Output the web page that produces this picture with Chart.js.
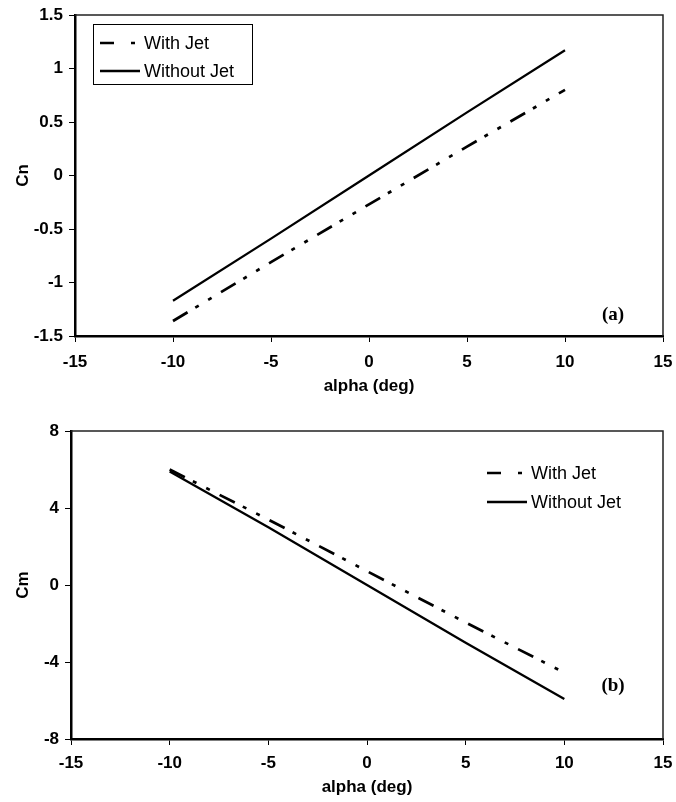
<!DOCTYPE html>
<html>
<head>
<meta charset="utf-8">
<script src="https://cdn.jsdelivr.net/npm/chart.js@4.4.1/dist/chart.umd.min.js"></script>
<style>
  body { margin: 0; background: #fff; }
  .box { position: absolute; left: 0; width: 676px; }
</style>
</head>
<body>
<div class="box" style="top:0;height:400px"><canvas id="cn" width="676" height="400"></canvas></div>
<div class="box" style="top:400px;height:402px"><canvas id="cm" width="676" height="402"></canvas></div>
<script>
// angle of attack (deg)
const alpha = [-10, -5, 0, 5, 10];

// normal force coefficient, chart (a)
const cnWithJet = [-1.36, -0.81, -0.27, 0.27, 0.80];
const cnWithoutJet = [-1.17, -0.59, 0.0, 0.59, 1.17];

// pitching moment coefficient, chart (b)
const cmWithJet = [6.0, 3.4, 0.72, -1.95, -4.55];
const cmWithoutJet = [5.9, 3.0, 0.0, -3.0, -5.92];

const alphaTicks = [-15, -10, -5, 0, 5, 10, 15];
const cnTicks = [-1.5, -1, -0.5, 0, 0.5, 1, 1.5];
const cmTicks = [-8, -4, 0, 4, 8];

const seriesNames = ['With Jet', 'Without Jet'];

const SANS = '"Liberation Sans", Arial, sans-serif';
const dashDotDot = [17, 9, 4, 11, 4, 11];

function pts(xs, ys) {
    return xs.map((x, i) => ({ x: x, y: ys[i] }));
}

// frame + legend + panel letter, drawn on top of the plot
function decorations(opts) {
    return {
        id: 'decor',
        afterDraw(chart) {
            const ctx = chart.ctx;
            const a = chart.chartArea;
            ctx.save();
            // thin top and right frame
            ctx.strokeStyle = '#222';
            ctx.lineWidth = 1.5;
            ctx.beginPath();
            ctx.moveTo(a.left, a.top);
            ctx.lineTo(a.right, a.top);
            ctx.lineTo(a.right, a.bottom);
            ctx.stroke();

            // legend
            const lx = opts.legendRight ? a.right - opts.legendX : a.left + opts.legendX;
            const ly = a.top + opts.legendY;
            if (opts.legendBox) {
                ctx.lineWidth = 1;
                ctx.strokeStyle = '#000';
                ctx.strokeRect(lx - 6.5, ly - 18.5, 159, 60);
            }
            ctx.font = '18px ' + SANS;
            ctx.fillStyle = '#000';
            ctx.textBaseline = 'middle';
            seriesNames.forEach((name, i) => {
                const y = ly + i * opts.legendGap;
                ctx.lineWidth = 2.6;
                ctx.strokeStyle = '#000';
                ctx.setLineDash(i === 0 ? [14, 17, 4, 20] : []);
                ctx.beginPath();
                ctx.moveTo(lx, y);
                ctx.lineTo(lx + 40, y);
                ctx.stroke();
                ctx.setLineDash([]);
                ctx.fillText(name, lx + 44, y + 1);
            });

            // panel letter
            ctx.font = 'bold 19px "Liberation Serif", "Times New Roman", serif';
            ctx.textAlign = 'center';
            ctx.fillText(opts.letter, a.right - 50, a.bottom - opts.letterUp);
            ctx.restore();
        }
    };
}

function makeChart(id, ticks, withJet, withoutJet, cfg) {
    const ctx = document.getElementById(id).getContext('2d');
    return new Chart(ctx, {
        type: 'line',
        data: {
            datasets: [{
                label: seriesNames[0],
                data: pts(alpha, withJet),
                borderColor: '#000',
                borderWidth: 2.7,
                borderDash: dashDotDot,
                pointRadius: 0,
                tension: 0
            }, {
                label: seriesNames[1],
                data: pts(alpha, withoutJet),
                borderColor: '#000',
                borderWidth: 2.3,
                pointRadius: 0,
                tension: 0
            }]
        },
        options: {
            responsive: false,
            animation: false,
            layout: { padding: { top: cfg.top, right: 13, left: 0, bottom: 0 } },
            plugins: { legend: { display: false }, tooltip: { enabled: false } },
            scales: {
                x: {
                    type: 'linear',
                    min: -15, max: 15,
                    afterBuildTicks: s => { s.ticks = alphaTicks.map(v => ({ value: v })); },
                    afterFit: s => {
                        s.height = cfg.xHeight;
                        s.paddingLeft = 0;
                        s.paddingRight = 0;
                    },
                    grid: { drawOnChartArea: false, drawTicks: true, tickLength: 6, color: '#000', lineWidth: 1 },
                    border: { display: true, color: '#000', width: 2.5 },
                    ticks: {
                        color: '#000', padding: cfg.xPad,
                        font: { family: SANS, size: 17, weight: 'bold' },
                        callback: v => String(v)
                    },
                    title: {
                        display: true, text: 'alpha (deg)', color: '#000',
                        font: { family: SANS, size: 17, weight: 'bold' },
                        padding: { top: 0, bottom: cfg.titleBottom }
                    }
                },
                y: {
                    type: 'linear',
                    min: ticks[0], max: ticks[ticks.length - 1],
                    afterBuildTicks: s => { s.ticks = ticks.map(v => ({ value: v })); },
                    afterFit: s => {
                        s.width = cfg.yWidth;
                        s.paddingTop = 0;
                        s.paddingBottom = 0;
                    },
                    grid: { drawOnChartArea: false, drawTicks: true, tickLength: 6, color: '#000', lineWidth: 1 },
                    border: { display: true, color: '#000', width: 2.5 },
                    ticks: {
                        color: '#000', padding: 6,
                        font: { family: SANS, size: 17, weight: 'bold' },
                        callback: v => String(v)
                    },
                    title: {
                        display: true, text: cfg.yTitle, color: '#000',
                        font: { family: SANS, size: 17, weight: 'bold' },
                        padding: { top: 13, bottom: 0 }
                    }
                }
            }
        },
        plugins: [decorations(cfg.decor)]
    });
}

makeChart('cn', cnTicks, cnWithJet, cnWithoutJet, {
    top: 15, xHeight: 64, yWidth: 75, xPad: 10, titleBottom: 3, yTitle: 'Cn',
    decor: { legendX: 25, legendY: 28, legendGap: 28, legendBox: true, letter: '(a)', letterUp: 21 }
});

makeChart('cm', cmTicks, cmWithJet, cmWithoutJet, {
    top: 31, xHeight: 63, yWidth: 71, xPad: 8, titleBottom: 4, yTitle: 'Cm',
    decor: { legendRight: true, legendX: 176, legendY: 42, legendGap: 29, legendBox: false, letter: '(b)', letterUp: 53 }
});
</script>
</body>
</html>
